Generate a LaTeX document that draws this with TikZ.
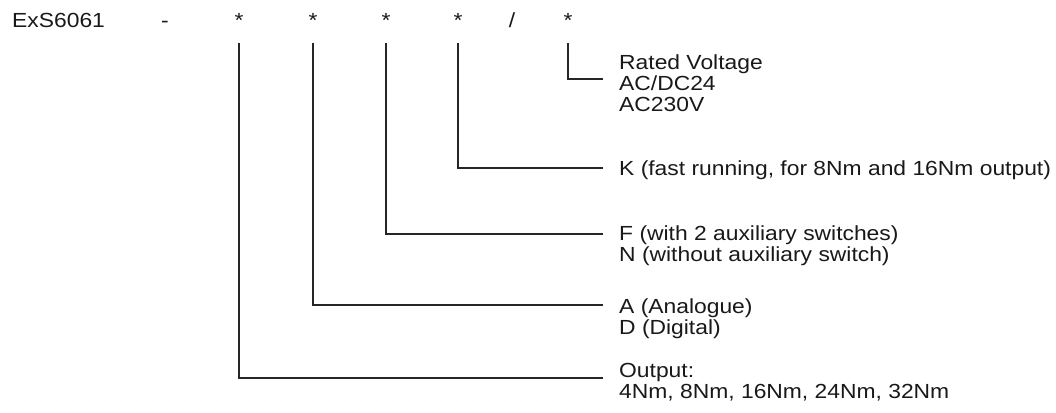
\documentclass[tikz,border=0pt]{standalone}
\usepackage{fontspec}
\setmainfont{Liberation Sans}[FakeStretch=1.12]
\begin{document}
\begin{tikzpicture}[x=1pt,y=-1pt,
  lbl/.style={font=\fontsize{20.4}{21}\selectfont, text=black!90, inner sep=0pt, anchor=base west, align=left},
  sym/.style={font=\fontsize{20.4}{21}\selectfont, text=black!90, inner sep=0pt, anchor=base},
  conn/.style={line width=1.1pt, draw=black!85}]
\useasboundingbox[fill=white] (0,0) rectangle (1056,412);
% header
\node[lbl] (code) at (12,28) {ExS6061};
\node[sym] (dash) at (165,28) {-};
\node[sym] (s1) at (239,28) {*};
\node[sym] (s2) at (313,28) {*};
\node[sym] (s3) at (386,28) {*};
\node[sym] (s4) at (458,28) {*};
\node[sym] (slash) at (512,28) {/};
\node[sym] (s5) at (568,28) {*};
% labels (base anchor = baseline of last line)
\node[lbl] (tv) at (619,111.3) {Rated Voltage\\AC/DC24\\AC230V};
\node[lbl] (tk) at (619,175.3) {K (fast running, for 8Nm and 16Nm output)};
\node[lbl] (tf) at (619,261.3) {F (with 2 auxiliary switches)\\N (without auxiliary switch)};
\node[lbl] (ta) at (619,334.3) {A (Analogue)\\D (Digital)};
\node[lbl] (to) at (619,398.3) {Output:\\4Nm, 8Nm, 16Nm, 24Nm, 32Nm};
% line ends
\coordinate (ev) at (603,79);
\coordinate (ek) at (603,168);
\coordinate (ef) at (603,234);
\coordinate (ea) at (603,305);
\coordinate (eo) at (603,378);
% connectors
\draw[conn] ([yshift=-15pt]s5.base) |- (ev);
\draw[conn] ([yshift=-15pt]s4.base) |- (ek);
\draw[conn] ([yshift=-15pt]s3.base) |- (ef);
\draw[conn] ([yshift=-15pt]s2.base) |- (ea);
\draw[conn] ([yshift=-15pt]s1.base) |- (eo);
\end{tikzpicture}
\end{document}
